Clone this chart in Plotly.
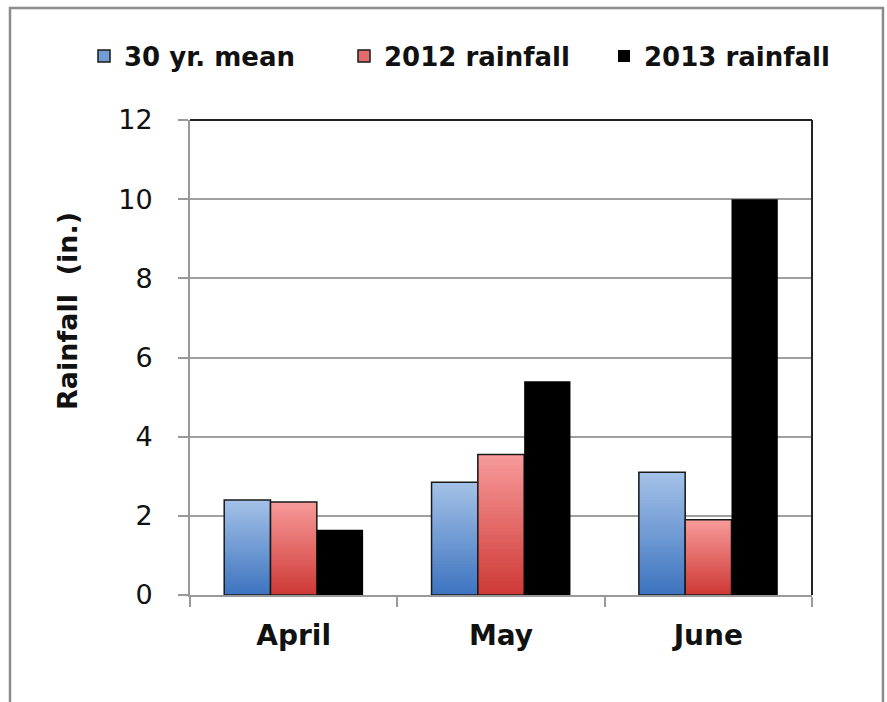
import plotly.graph_objects as go

months = ["April", "May", "June"]
series_names = ["30 yr. mean", "2012 rainfall", "2013 rainfall"]
mean_30yr = [2.4, 2.85, 3.1]
rain_2012 = [2.35, 3.55, 1.9]
rain_2013 = [1.65, 5.4, 10.0]
y_ticks = [0, 2, 4, 6, 8, 10, 12]

# gradient (top colour, bottom colour) per series
grad = {
    "30 yr. mean": ((166, 195, 232), (62, 116, 192)),
    "2012 rainfall": ((248, 156, 156), (206, 58, 54)),
}
N = 40

fig = go.Figure()


def mix(c1, c2, t):
    return "rgb(%d,%d,%d)" % tuple(round(a + (b - a) * t) for a, b in zip(c1, c2))


for name, vals in [("30 yr. mean", mean_30yr), ("2012 rainfall", rain_2012)]:
    top, bot = grad[name]
    # legend entry (no visible data)
    fig.add_trace(go.Bar(x=[months[0]], y=[None], name=name, offsetgroup=name,
                         marker=dict(color=mix(top, bot, 0.5), line=dict(color="#1a1a1a", width=1.5)),
                         showlegend=True))
    for i in range(N):
        frac = i / N
        fig.add_trace(go.Bar(
            x=months,
            y=[v * (1 - frac) for v in vals],
            base=[v * frac for v in vals],
            offsetgroup=name,
            marker=dict(color=mix(bot, top, frac), line=dict(width=0)),
            showlegend=False, hoverinfo="skip"))
    fig.add_trace(go.Bar(
        x=months, y=vals, offsetgroup=name,
        marker=dict(color="rgba(0,0,0,0)", line=dict(color="#1a1a1a", width=1.5)),
        showlegend=False, hoverinfo="skip"))

fig.add_trace(go.Bar(x=months, y=rain_2013, name="2013 rainfall", offsetgroup="2013 rainfall",
                     marker=dict(color="#000000", line=dict(width=0))))

# plot-area top/right border (dark) and outer chart frame
fig.add_shape(type="line", xref="paper", yref="paper", x0=0, x1=1, y0=1, y1=1,
              line=dict(color="#222222", width=2))
fig.add_shape(type="line", xref="paper", yref="paper", x0=1, x1=1, y0=0, y1=1,
              line=dict(color="#222222", width=2))
fig.add_shape(type="path", xref="paper", yref="paper",
              path="M -0.2894,-0.3 L -0.2894,1.2358 L 1.1141,1.2358 L 1.1141,-0.3",
              line=dict(color="#8c8c8c", width=2.5))

fig.add_annotation(text="Rainfall  (in.)", textangle=-90, xref="paper", yref="paper",
                   x=(67 - 190) / 622, y=(595 - 311) / 475, xanchor="center", yanchor="middle",
                   showarrow=False,
                   font=dict(family="DejaVu Sans", size=27, color="#111111", weight="bold"))

fig.update_layout(
    width=887, height=702,
    margin=dict(l=190, r=75, t=120, b=107),
    paper_bgcolor="white", plot_bgcolor="white",
    barmode="group", bargap=0.33, bargroupgap=0,
    font=dict(family="DejaVu Sans", color="#111111"),
    legend=dict(orientation="h", x=(84 - 190) / 622, xanchor="left",
                y=(595 - 56) / 475, yanchor="middle",
                font=dict(family="DejaVu Sans", size=26, color="#111111", weight="bold"),
                entrywidth=215, traceorder="normal", itemclick=False),
    showlegend=True,
)
fig.update_xaxes(type="category", categoryorder="array", categoryarray=months,
                 showline=True, linecolor="#999999", linewidth=2,
                 ticks="outside", tickson="boundaries", ticklen=10, tickcolor="#999999", tickwidth=2,
                 tickfont=dict(family="DejaVu Sans", size=28, color="#111111", weight="bold"),
                 ticklabelstandoff=14, showgrid=False)
fig.update_yaxes(range=[0, 12], tickvals=y_ticks, showline=True, linecolor="#999999", linewidth=2,
                 ticks="outside", ticklen=10, tickcolor="#999999", tickwidth=2,
                 tickfont=dict(family="DejaVu Sans", size=27, color="#111111"),
                 ticklabelstandoff=20,
                 showgrid=True, gridcolor="#a0a0a0", gridwidth=2, zeroline=False)

fig.write_html("out.html")
